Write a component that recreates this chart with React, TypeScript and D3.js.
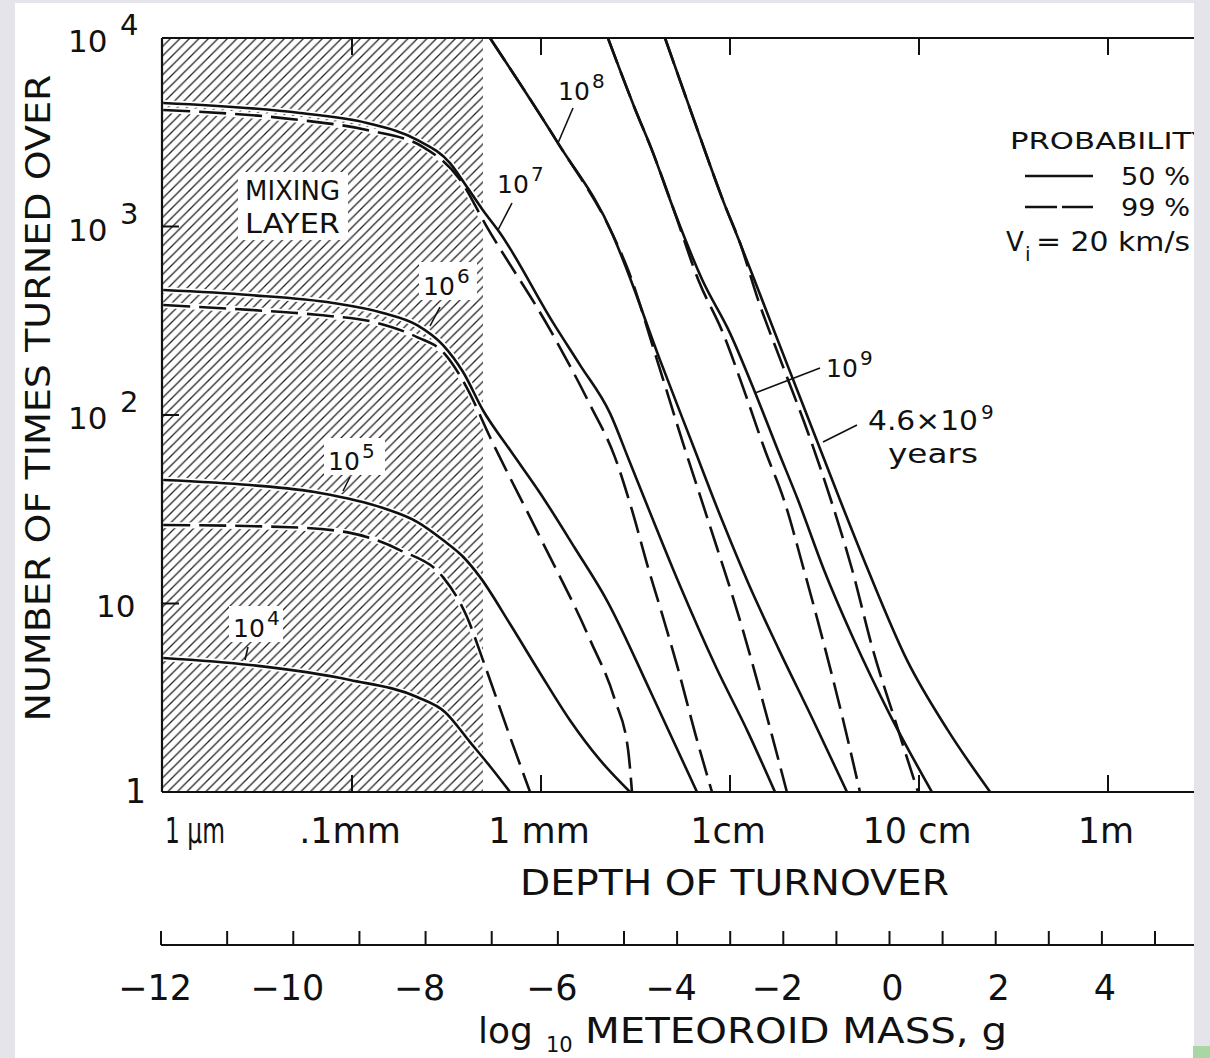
import React from "react";
import * as d3 from "d3";

const W = 1210;
const H = 1058;
const FONT = "DejaVu Sans";

// depth of turnover in mm, N = number of times turned over
const solid1e4 = [[0.00103, 5.14], [0.00843, 4.72], [0.0953, 3.93], [0.221, 3.19], [0.31, 2.66], [0.421, 1.84], [0.537, 1.37], [0.686, 1]];

const solid1e5 = [[0.00103, 45.2], [0.00843, 42.5], [0.0461, 38.6], [0.146, 32.1], [0.221, 27.1], [0.303, 21.7], [0.387, 17.7], [0.476, 13.8], [0.686, 7.78], [0.988, 4.28], [1.42, 2.41], [2.05, 1.48], [2.96, 1]];
const dashed1e5 = [[0.00103, 26.1], [0.0222, 25.4], [0.0953, 23.7], [0.179, 19.2], [0.303, 13.8], [0.406, 8.48], [0.493, 5.01], [0.686, 1.96], [0.875, 1]];

const solid1e6 = [[0.00103, 460], [0.00843, 433], [0.0631, 393], [0.146, 348], [0.221, 300], [0.303, 235], [0.387, 169], [0.493, 106], [0.686, 65.2], [0.988, 38.6], [1.51, 19.7], [2.23, 10.4], [3.87, 3.27], [6.69, 1]];
const dashed1e6 = [[0.00103, 383], [0.00843, 361], [0.0428, 340], [0.136, 308], [0.221, 259], [0.303, 216], [0.406, 139], [0.537, 76.4], [0.988, 22.5], [1.82, 6.4], [2.46, 3.08], [2.89, 1.67], [3.03, 1]];

const solid1e7 = [[0.00103, 4520], [0.0284, 4000], [0.12, 3540], [0.221, 2880], [0.33, 2170], [0.406, 1620], [0.493, 1220], [0.607, 924], [1.16, 308], [1.61, 184], [2.32, 102], [2.92, 57.7], [3.55, 35.4], [5.37, 12.8], [8.43, 4.6], [12.5, 2.06], [17.3, 1]];
const dashed1e7 = [[0.00103, 4150], [0.0284, 3670], [0.12, 3250], [0.238, 2640], [0.373, 1770], [0.518, 993], [1.12, 282], [1.82, 113], [2.46, 59.8], [3.03, 31.3], [3.68, 15.6], [4.37, 8.8], [5.31, 4.5], [6.53, 2.06], [8.03, 1]];

const solid1e8 = [[0.537, 10000], [1.23, 2770], [2.4, 902], [2.85, 588], [4.26, 196], [6.3, 71], [9.07, 27.7], [12.5, 12.8], [18.2, 5.66], [27.5, 2.41], [41.6, 1]];
const dashed1e8 = [[0.537, 10000], [1.23, 2770], [2.4, 902], [2.89, 588], [4.11, 196], [5.64, 71], [7.65, 27.7], [11.7, 7.23], [15.7, 2.5], [20, 1]];

const solid1e9 = [[2.26, 10000], [3.16, 4150], [3.86, 2550], [5.05, 1220], [7.14, 520], [10, 272], [13.6, 131], [17.9, 65.2], [22.9, 35.4], [31.4, 15.1], [45.3, 6.4], [70.3, 2.56], [117, 1]];
const dashed1e9 = [[2.26, 10000], [3.16, 4150], [3.86, 2550], [5.05, 1220], [6.8, 520], [9.18, 272], [12, 131], [15.3, 65.2], [19.3, 35.4], [24.6, 15.1], [31, 6.4], [39.1, 2.56], [48.7, 1]];

const solid46e9 = [[4.53, 10000], [6.45, 3670], [9.3, 1330], [11.3, 817], [14.8, 407], [20.3, 180], [27.8, 80.3], [38.2, 35.4], [53.7, 15.1], [86.4, 5.01], [142, 2.13], [238, 1]];
const dashed46e9 = [[4.53, 10000], [6.45, 3670], [9.3, 1330], [11.3, 817], [14.1, 407], [19.1, 180], [25.9, 80.3], [34.2, 35.4], [44.3, 15.1], [57.1, 5.66], [74.6, 2.41], [98.8, 1]];

const solidCurves = [solid1e4, solid1e5, solid1e6, solid1e7, solid1e8, solid1e9, solid46e9];
const dashedCurves = [dashed1e5, dashed1e6, dashed1e7, dashed1e8, dashed1e9, dashed46e9];

const depthTicks = [0.1, 1, 10, 100, 1000];
const depthLabels = [".1mm", "1 mm", "1cm", "10 cm", "1m"];
const countTicks = [10, 100, 1000];
const massTicks = d3.range(-12, 6);
const massLabels = [-12, -10, -8, -6, -4, -2, 0, 2, 4];

export default function App() {
  const x = d3.scaleLog().domain([0.001, 0.1, 1000]).range([162, 352, 1108]);
  const y = d3.scaleLog().domain([1, 10000]).range([792, 38]);
  const m = d3.scaleLinear().domain([-12, -5, 5]).range([161, 624, 1155]);

  const left = 162, right = 1194, top = y(10000), bottom = y(1);
  const hatchRight = 483;
  const massY = 945;

  const line = d3
    .line<number[]>()
    .x((d) => x(d[0]))
    .y((d) => y(d[1]))
    .curve(d3.curveMonotoneX);

  const txt = { fontFamily: FONT, fill: "#111" } as const;

  const curveLabels = [
    { s: "8", x: 558, y: 100, lx1: 573, ly1: 108, lx2: 558, ly2: 143 },
    { s: "7", x: 497, y: 193, lx1: 512, ly1: 203, lx2: 498, ly2: 230 },
    { s: "6", x: 423, y: 295, lx1: 440, ly1: 307, lx2: 430, ly2: 326 },
    { s: "5", x: 328, y: 470, lx1: 350, ly1: 477, lx2: 343, ly2: 491 },
    { s: "4", x: 233, y: 637, lx1: 248, ly1: 647, lx2: 245, ly2: 660 },
    { s: "9", x: 826, y: 377, lx1: 820, ly1: 368, lx2: 755, ly2: 393 },
  ];

  return (
    <div style={{ position: "absolute", left: 0, top: 0 }}>
      <svg width={W} height={H} style={{ display: "block" }}>
        <defs>
          <pattern id="hatch" patternUnits="userSpaceOnUse" width={9.5} height={9.5}>
            <path d="M-1,1 L1,-1 M0,9.5 L9.5,0 M8.5,10.5 L10.5,8.5" stroke="#222" strokeWidth={1.3} />
          </pattern>
          <clipPath id="plot">
            <rect x={left} y={top} width={right - left} height={bottom - top} />
          </clipPath>
        </defs>

        <rect width={W} height={H} fill="#e4e4ea" />
        <rect x={15} y={3} width={right - 15} height={H - 3} fill="#fff" />

        {/* mixing layer */}
        <rect x={left} y={top} width={hatchRight - left} height={bottom - top} fill="url(#hatch)" />
        <rect x={238} y={172} width={110} height={68} fill="#fff" />
        <rect x={419} y={262} width={58} height={38} fill="#fff" />
        <rect x={324} y={438} width={61} height={37} fill="#fff" />
        <rect x={229} y={606} width={54} height={36} fill="#fff" />

        <g clipPath="url(#plot)">
          {[...solidCurves, ...dashedCurves].map((c, i) => (
            <path key={"h" + i} d={line(c) ?? ""} fill="none" stroke="#fff" strokeWidth={6} />
          ))}
          {solidCurves.map((c, i) => (
            <path key={"s" + i} d={line(c) ?? ""} fill="none" stroke="#111" strokeWidth={2.6} />
          ))}
          {dashedCurves.map((c, i) => (
            <path key={"d" + i} d={line(c) ?? ""} fill="none" stroke="#111" strokeWidth={2.6} strokeDasharray="27 9" />
          ))}
        </g>

        {/* frame */}
        <line x1={left} x2={right} y1={top} y2={top} stroke="#111" strokeWidth={2.2} />
        <line x1={left} x2={right} y1={bottom} y2={bottom} stroke="#111" strokeWidth={2.2} />
        <line x1={left} x2={left} y1={top} y2={bottom} stroke="#111" strokeWidth={2.2} />
        {depthTicks.map((t) => (
          <g key={t}>
            <line x1={x(t)} x2={x(t)} y1={top} y2={top + 17} stroke="#111" strokeWidth={2} />
            <line x1={x(t)} x2={x(t)} y1={bottom} y2={bottom - 17} stroke="#111" strokeWidth={2} />
          </g>
        ))}
        {countTicks.map((t) => (
          <line key={t} x1={left} x2={left + 17} y1={y(t)} y2={y(t)} stroke="#111" strokeWidth={2} />
        ))}

        {/* y labels */}
        {[10000, 1000, 100].map((t) => (
          <text key={t} x={68} y={y(t) + 14} fontSize={31} {...txt}>
            10
            <tspan x={120} dy={-17} fontSize={29}>{Math.log10(t)}</tspan>
          </text>
        ))}
        <text x={96} y={y(10) + 13} fontSize={31} {...txt}>10</text>
        <text x={146} y={y(1) + 11} textAnchor="end" fontSize={33} {...txt}>1</text>
        <text
          transform={`translate(50, 398) rotate(-90)`}
          textAnchor="middle"
          fontSize={34}
          textLength={647}
          lengthAdjust="spacingAndGlyphs"
          {...txt}
        >
          NUMBER OF TIMES TURNED OVER
        </text>

        {/* depth labels */}
        <text x={left + 3} y={843} fontSize={35} textLength={60} lengthAdjust="spacingAndGlyphs" {...txt}>1 µm</text>
        {depthTicks.map((t, i) => (
          <text key={t} x={x(t) - 2} y={843} textAnchor="middle" fontSize={35} {...txt}>
            {depthLabels[i]}
          </text>
        ))}
        <text x={520} y={895} fontSize={36} textLength={429} lengthAdjust="spacingAndGlyphs" {...txt}>
          DEPTH OF TURNOVER
        </text>

        {/* meteoroid mass axis */}
        <line x1={m(-12)} x2={right} y1={massY} y2={massY} stroke="#111" strokeWidth={2} />
        {massTicks.map((t) => (
          <line key={t} x1={m(t)} x2={m(t)} y1={massY} y2={massY - 14} stroke="#111" strokeWidth={2} />
        ))}
        {massLabels.map((t) => (
          <text key={t} x={m(t) + (t < 0 ? -6 : 3)} y={1000} textAnchor="middle" fontSize={35} {...txt}>
            {t < 0 ? "−" + Math.abs(t) : String(t)}
          </text>
        ))}
        <text x={478} y={1043} fontSize={36} {...txt}>
          log
          <tspan x={546} dy={9} fontSize={21}>10</tspan>
          <tspan x={585} dy={-9} textLength={422} lengthAdjust="spacingAndGlyphs">METEOROID MASS, g</tspan>
        </text>

        {/* legend */}
        <text x={1010} y={149} fontSize={23} textLength={200} lengthAdjust="spacingAndGlyphs" {...txt}>PROBABILITY</text>
        <line x1={1025} x2={1093} y1={176} y2={176} stroke="#111" strokeWidth={2.6} />
        <text x={1121} y={185} fontSize={25} textLength={69} lengthAdjust="spacingAndGlyphs" {...txt}>50 %</text>
        <line x1={1025} x2={1093} y1={207} y2={207} stroke="#111" strokeWidth={2.6} strokeDasharray="32 5" />
        <text x={1121} y={216} fontSize={25} textLength={69} lengthAdjust="spacingAndGlyphs" {...txt}>99 %</text>
        <text x={1006} y={251} fontSize={26} {...txt}>
          V
          <tspan x={1025} dy={10} fontSize={20}>i</tspan>
          <tspan x={1036} dy={-10} textLength={154} lengthAdjust="spacingAndGlyphs">= 20 km/s</tspan>
        </text>

        {/* curve annotations */}
        <text x={245} y={200} fontSize={27} textLength={95} lengthAdjust="spacingAndGlyphs" {...txt}>MIXING</text>
        <text x={245} y={233} fontSize={27} textLength={95} lengthAdjust="spacingAndGlyphs" {...txt}>LAYER</text>
        {curveLabels.map((a) => (
          <g key={a.s}>
            <text x={a.x} y={a.y} fontSize={25} {...txt}>
              10
              <tspan x={a.x + 34} dy={-12} fontSize={20}>{a.s}</tspan>
            </text>
            <line x1={a.lx1} y1={a.ly1} x2={a.lx2} y2={a.ly2} stroke="#111" strokeWidth={1.6} />
          </g>
        ))}
        <text x={868} y={430} fontSize={27} {...txt}>
          <tspan textLength={110} lengthAdjust="spacingAndGlyphs">4.6×10</tspan>
          <tspan x={981} dy={-11} fontSize={20}>9</tspan>
        </text>
        <text x={888} y={463} fontSize={27} textLength={90} lengthAdjust="spacingAndGlyphs" {...txt}>years</text>
        <line x1={857} y1={425} x2={823} y2={442} stroke="#111" strokeWidth={1.6} />

        {/* crop border */}
        <rect x={right} y={0} width={W - right} height={H} fill="#e4e4ea" />
        <rect x={1193} y={1046} width={17} height={12} fill="#a9d6a2" />
      </svg>
    </div>
  );
}
